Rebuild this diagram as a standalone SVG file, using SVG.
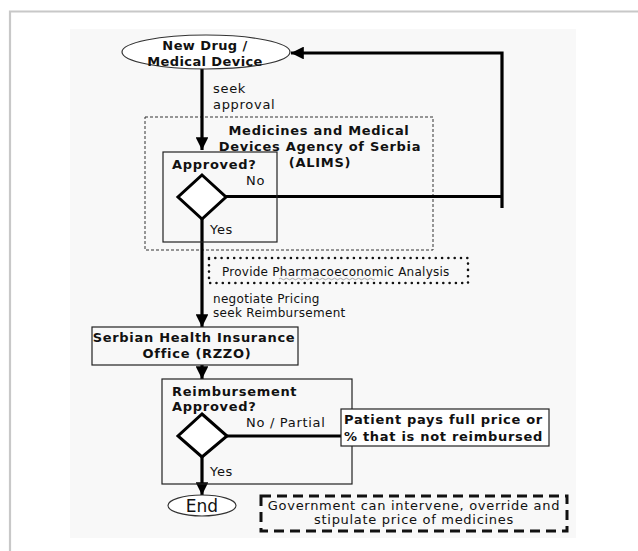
<svg xmlns="http://www.w3.org/2000/svg" width="638" height="551" viewBox="0 0 638 551">
<defs>
<marker id="ah" viewBox="0 0 10 10" refX="10" refY="5" markerWidth="4" markerHeight="4" markerUnits="strokeWidth" orient="auto"><path d="M0,0 L10,5 L0,10 z" fill="#000"/></marker>
<style>
text{font-family:"DejaVu Sans",Verdana,sans-serif;fill:#111}
.b{font-weight:bold;font-size:13px;letter-spacing:0.7px}
.r{font-size:13px;letter-spacing:0.7px}
.s{font-size:12px;letter-spacing:0.3px}
.box{fill:none;stroke:#222;stroke-width:1.2}
.dia{fill:#fff;stroke:#000;stroke-width:3}
.ln{fill:none;stroke:#000;stroke-width:3.2}
</style>
</defs>
<rect x="0" y="0" width="638" height="551" fill="#fff"/>
<path d="M10,551 V11.5 H638" fill="none" stroke="#c8c8c8" stroke-width="2.2"/>
<rect x="70" y="29" width="506" height="509" fill="#f8f8f8"/>

<g id="alims-group">
<rect x="145" y="117" width="288" height="133" fill="none" stroke="#333" stroke-width="1" stroke-dasharray="3,2"/>
<text class="b" text-anchor="middle" x="319" y="135">Medicines and Medical</text>
<text class="b" text-anchor="middle" x="320" y="151">Devices Agency of Serbia</text>
<text class="b" text-anchor="middle" x="320" y="167">(ALIMS)</text>
</g>

<g id="connectors">
<line class="ln" x1="202" y1="69" x2="202" y2="150" marker-end="url(#ah)"/>
<line class="ln" x1="202" y1="219" x2="202" y2="327" marker-end="url(#ah)"/>
<line class="ln" x1="202" y1="365" x2="202" y2="379" marker-end="url(#ah)"/>
<line class="ln" x1="202" y1="457" x2="202" y2="495" marker-end="url(#ah)"/>
<polyline class="ln" points="226,196.5 502,196.5"/>
<polyline class="ln" points="502,208 502,53 291,53" marker-end="url(#ah)"/>
<line class="ln" x1="227" y1="436" x2="341" y2="436"/>
<text class="r" x="213" y="93">seek</text>
<text class="r" x="213" y="109">approval</text>
<text class="s" x="213" y="303">negotiate Pricing</text>
<text class="s" x="213" y="317">seek Reimbursement</text>
</g>

<g id="new-drug">
<ellipse cx="206" cy="52" rx="84" ry="17" fill="#fff" stroke="#333" stroke-width="1.2"/>
<text class="b" text-anchor="middle" x="205" y="50" style="letter-spacing:0.4px">New Drug /</text>
<text class="b" text-anchor="middle" x="205" y="66" style="letter-spacing:0.4px">Medical Device</text>
</g>

<g id="approved">
<rect class="box" x="163" y="152" width="114" height="90"/>
<text class="b" x="172" y="169">Approved?</text>
<polygon class="dia" points="202,175 226,197 202,219 178,197"/>
<text class="r" x="246" y="185">No</text>
<text class="r" x="210" y="234">Yes</text>
</g>

<g id="pharmaco">
<rect x="209" y="258" width="259" height="25" fill="none" stroke="#111" stroke-width="2.6" stroke-linecap="round" stroke-dasharray="0,6.3"/>
<text class="s" x="222" y="276" style="letter-spacing:0.25px">Provide Pharmacoeconomic Analysis</text>
<path d="M279,279 q1.5,-1.5 3,0 t3,0 t3,0 t3,0 t3,0 t3,0 t3,0 t3,0 t3,0 t3,0 t3,0 t3,0 t3,0 t3,0 t3,0 t3,0 t3,0 t3,0 t3,0 t3,0 t3,0 t3,0 t3,0 t3,0 t3,0 t3,0 t3,0 t3,0 t3,0 t3,0 t3,0 t3,0" fill="none" stroke="#888" stroke-width="0.7"/>
</g>

<g id="rzzo">
<rect class="box" x="92" y="327" width="206" height="38" fill="#fff"/>
<text class="b" text-anchor="middle" x="194" y="342">Serbian Health Insurance</text>
<text class="b" text-anchor="middle" x="197" y="358">Office (RZZO)</text>
</g>

<g id="reimbursement">
<rect class="box" x="162" y="379" width="190" height="105"/>
<text class="b" x="172" y="396">Reimbursement</text>
<text class="b" x="172" y="411">Approved?</text>
<polygon class="dia" points="202,414 227,436 202,457 178,436"/>
<text class="r" x="246" y="427">No / Partial</text>
<text class="r" x="210" y="476">Yes</text>
</g>

<g id="patient">
<rect x="341" y="409" width="208" height="37" fill="#fff" stroke="#222" stroke-width="1.2"/>
<text class="b" x="344" y="424">Patient pays full price or</text>
<text class="b" x="344" y="441">% that is not reimbursed</text>
</g>

<g id="end">
<ellipse cx="202" cy="505.5" rx="34" ry="10.5" fill="#fff" stroke="#333" stroke-width="1.2"/>
<text x="202" y="512" text-anchor="middle" style="font-size:17px">End</text>
</g>

<g id="government">
<rect x="261" y="496" width="306" height="35" fill="none" stroke="#111" stroke-width="3" stroke-dasharray="10,6"/>
<text class="r" x="414" y="510" text-anchor="middle">Government can intervene, override and</text>
<text class="r" x="414" y="524" text-anchor="middle">stipulate price of medicines</text>
</g>
</svg>
